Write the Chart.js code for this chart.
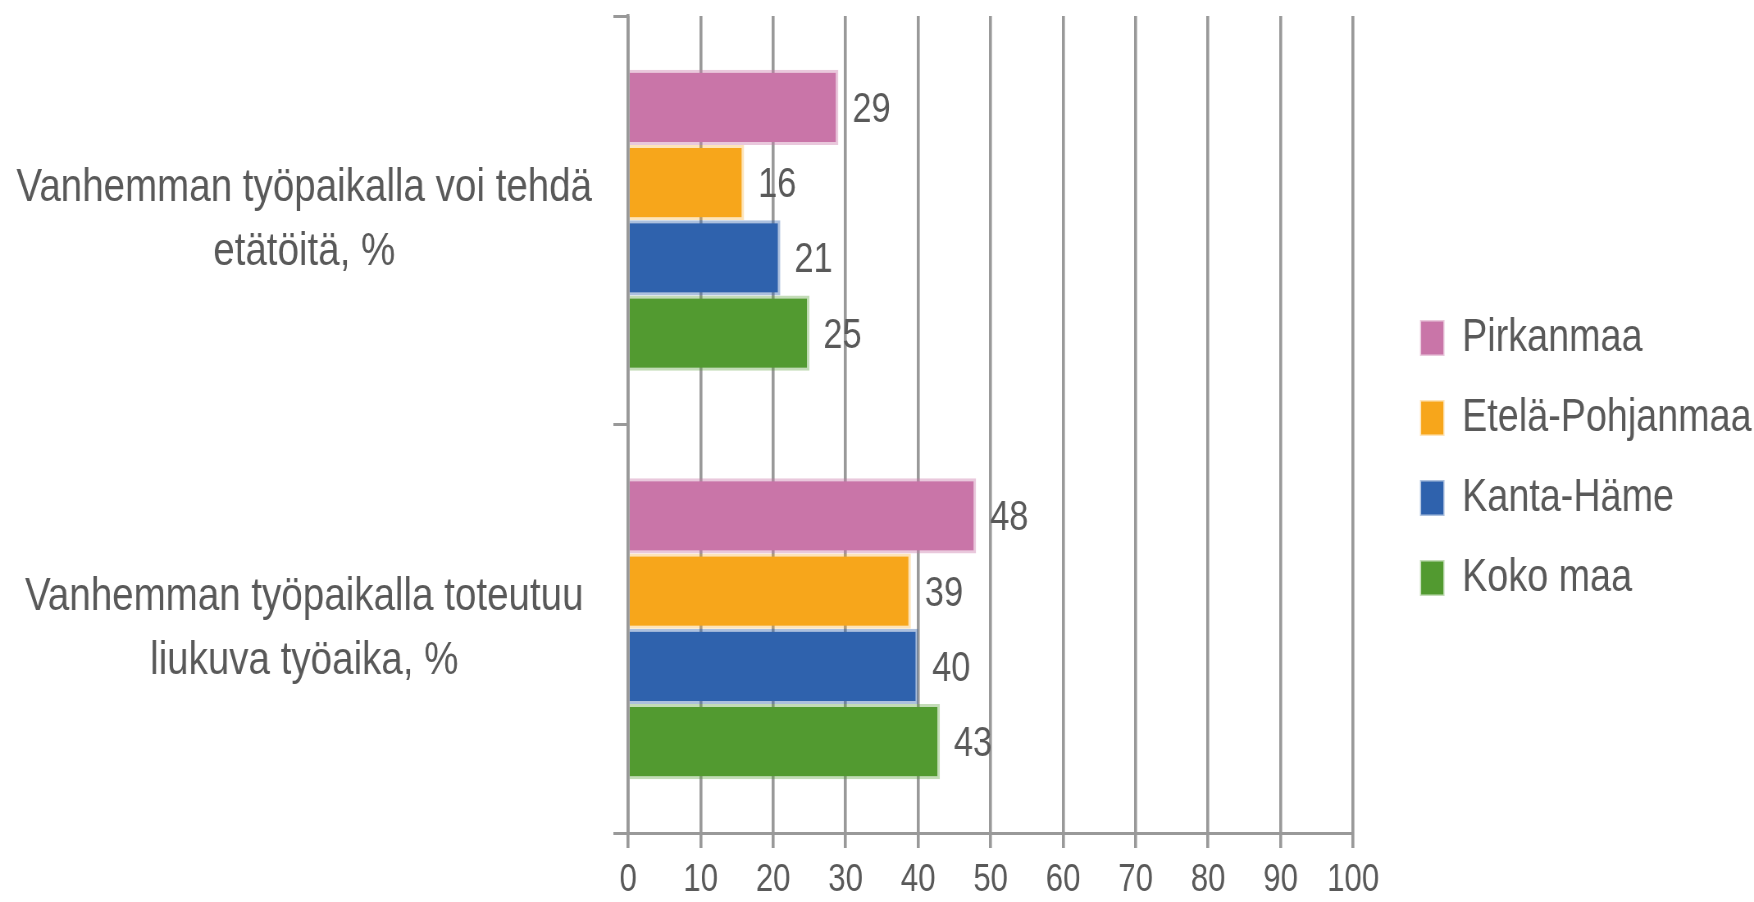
<!DOCTYPE html>
<html>
<head>
<meta charset="utf-8">
<script src="https://cdn.jsdelivr.net/npm/chart.js@4.4.1/dist/chart.umd.min.js"></script>
<style>
  html, body { margin: 0; padding: 0; background: #ffffff; overflow: hidden; }
  #kaavio { display: block; }
</style>
</head>
<body>
<canvas id="kaavio"></canvas>
<script>
var kategoriat = [
  ['Vanhemman työpaikalla voi tehdä', 'etätöitä, %'],
  ['Vanhemman työpaikalla toteutuu', 'liukuva työaika, %']
];
var sarjat = ['Pirkanmaa', 'Etelä-Pohjanmaa', 'Kanta-Häme', 'Koko maa'];
var pirkanmaa = [29, 48];
var etelaPohjanmaa = [16, 39];
var kantaHame = [21, 40];
var kokoMaa = [25, 43];
var akseliMin = 0;
var akseliMax = 100;
var akseliVali = 10;

// alkuperäisen kuvan teksti on kapeaa (Arial Narrow) -> piirretään leveämpänä ja puristetaan vaakasuunnassa
var puristus = 0.82;
var leveys = 1754, korkeus = 902;
var fontti = '"Liberation Sans", Arial, sans-serif';
var tekstiVari = '#595959';
var viivaVari = '#999999';
var oikeaRako = 42;
var seliteSiirtoPx = 49;
var yAkselinLeveys = 766;
var xAkselinKorkeus = 67;

var arvot = [pirkanmaa, etelaPohjanmaa, kantaHame, kokoMaa];
var taytot = ['#C975A8', '#F7A61B', '#2F62AD', '#529A30'];
var reunat = ['rgba(201,117,168,0.4)', 'rgba(247,166,27,0.3)', 'rgba(47,98,173,0.4)', 'rgba(82,154,48,0.35)'];

var datasetit = sarjat.map(function (nimi, i) {
  return {
    label: nimi,
    data: arvot[i],
    backgroundColor: taytot[i],
    borderColor: reunat[i],
    borderWidth: 3,
    categoryPercentage: 0.737,
    barPercentage: 1.0
  };
});

// arvot palkkien perään
var arvoTekstit = {
  id: 'arvoTekstit',
  afterDatasetsDraw: function (chart) {
    var ctx = chart.ctx;
    ctx.save();
    ctx.font = '42px ' + fontti;
    ctx.fillStyle = tekstiVari;
    ctx.textAlign = 'left';
    ctx.textBaseline = 'middle';
    chart.data.datasets.forEach(function (ds, i) {
      chart.getDatasetMeta(i).data.forEach(function (palkki, j) {
        ctx.fillText(ds.data[j], palkki.x + 17, palkki.y + 3);
      });
    });
    ctx.restore();
  }
};

// selite irti kuva-alueesta, kiinni oikeaan reunaan
var seliteSiirto = {
  id: 'seliteSiirto',
  afterLayout: function (chart) {
    if (chart.legend) {
      chart.legend.left += seliteSiirtoPx;
      chart.legend.right += seliteSiirtoPx;
    }
  }
};

var kangas = document.getElementById('kaavio');
kangas.width = Math.round(leveys / puristus);
kangas.height = korkeus;
kangas.style.width = leveys + 'px';
kangas.style.height = korkeus + 'px';

var kaavio = new Chart(kangas.getContext('2d'), {
  type: 'bar',
  data: { labels: kategoriat, datasets: datasetit },
  plugins: [arvoTekstit, seliteSiirto],
  options: {
    indexAxis: 'y',
    responsive: false,
    animation: false,
    devicePixelRatio: 1,
    layout: { padding: { top: 16, left: 0, right: oikeaRako, bottom: 2 } },
    scales: {
      x: {
        position: 'bottom',
        min: akseliMin,
        max: akseliMax,
        afterFit: function (akseli) {
          akseli.height = xAkselinKorkeus;
        },
        ticks: {
          stepSize: akseliVali,
          color: tekstiVari,
          font: { family: fontti, size: 38, lineHeight: 1.0 },
          padding: 14,
          maxRotation: 0
        },
        grid: { color: viivaVari, lineWidth: 3.6, tickLength: 15, tickColor: viivaVari },
        border: { color: viivaVari, width: 3 }
      },
      y: {
        offset: true,
        afterFit: function (akseli) {
          akseli.width = yAkselinLeveys;
          akseli.paddingTop = 0;
          akseli.paddingBottom = 0;
        },
        ticks: {
          color: tekstiVari,
          font: { family: fontti, size: 47, lineHeight: 1.36 },
          crossAlign: 'center',
          padding: 26
        },
        grid: { offset: true, drawOnChartArea: false, color: viivaVari, lineWidth: 3, tickLength: 18 },
        border: { color: viivaVari, width: 3.6 }
      }
    },
    plugins: {
      legend: {
        position: 'right',
        labels: {
          color: tekstiVari,
          font: { family: fontti, size: 46 },
          boxWidth: 27,
          boxHeight: 33,
          padding: 34
        }
      },
      tooltip: { enabled: false }
    }
  }
});
</script>
</body>
</html>
